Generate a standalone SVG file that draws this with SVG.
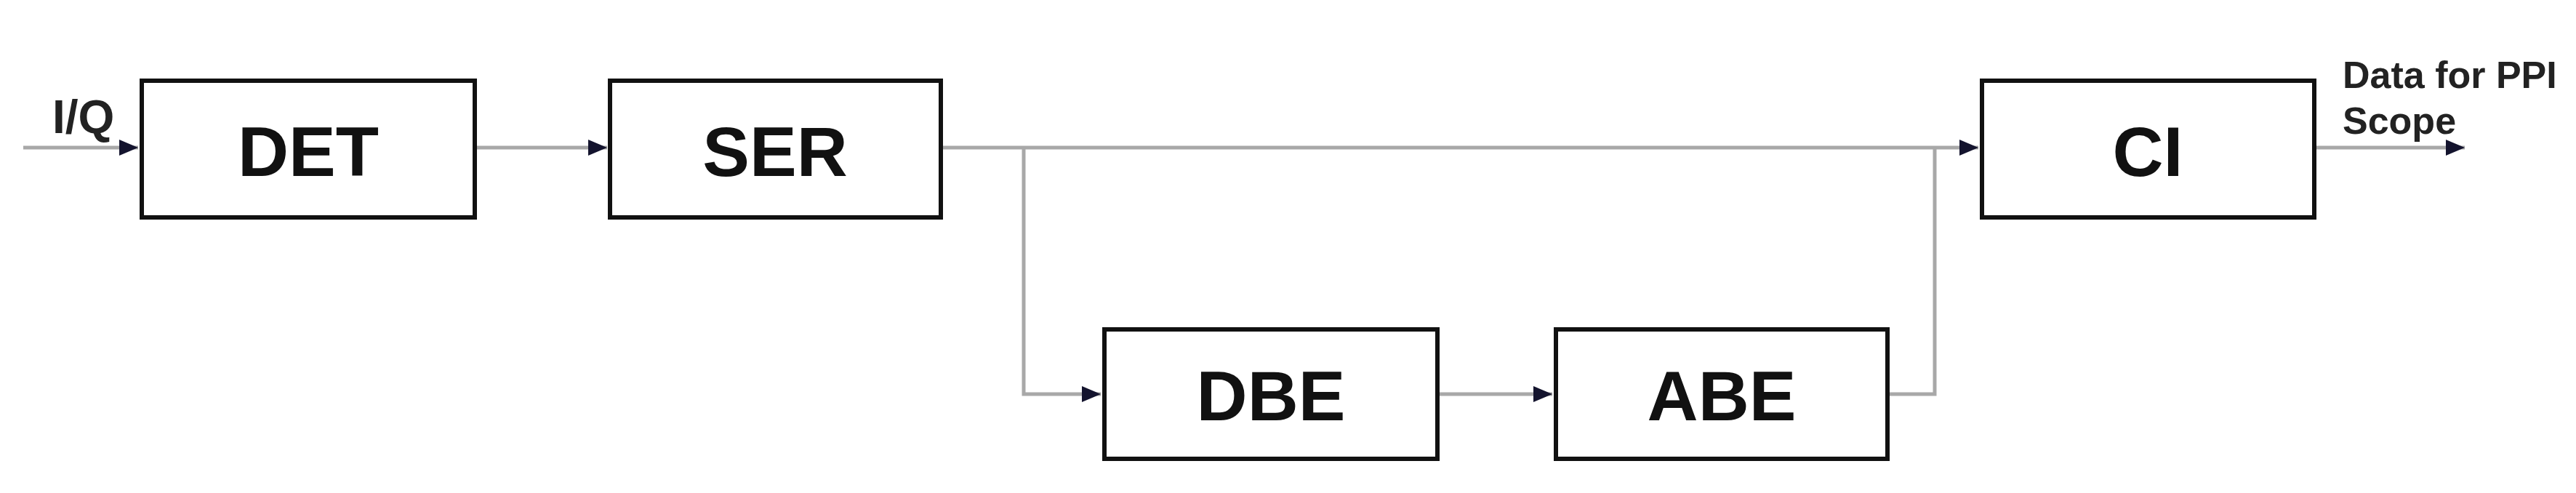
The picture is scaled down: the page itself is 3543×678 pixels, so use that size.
<svg xmlns="http://www.w3.org/2000/svg" width="3543" height="678" viewBox="0 0 3543 678">
  <style>
    .box { fill: #ffffff; stroke: #111111; stroke-width: 6; }
    .lbl { font-family: "Liberation Sans", Arial, sans-serif; font-weight: bold; font-size: 97px; fill: #111111; text-anchor: middle; }
    .note { font-family: "Liberation Sans", Arial, sans-serif; font-weight: bold; fill: #222222; }
    .conn { fill: none; stroke: #a8a8a8; stroke-width: 5; }
  </style>
  <defs>
    <marker id="arr" markerUnits="userSpaceOnUse" markerWidth="30" markerHeight="24" refX="26" refY="11" orient="auto">
      <path d="M0,0 L26,11 L0,22 Z" fill="#14142e"/>
    </marker>
  </defs>
  <rect width="3543" height="678" fill="#ffffff"/>
  <g id="connectors">
    <line class="conn" x1="32" y1="203" x2="190" y2="203" marker-end="url(#arr)"/>
    <line class="conn" x1="656" y1="203" x2="835" y2="203" marker-end="url(#arr)"/>
    <line class="conn" x1="1297" y1="203" x2="2721" y2="203" marker-end="url(#arr)"/>
    <polyline class="conn" points="1408,203 1408,542 1514,542" marker-end="url(#arr)"/>
    <line class="conn" x1="1980" y1="542" x2="2135" y2="542" marker-end="url(#arr)"/>
    <polyline class="conn" points="2599,542 2661,542 2661,203"/>
    <line class="conn" x1="3186" y1="203" x2="3390" y2="203" marker-end="url(#arr)"/>
  </g>
  <g id="node-DET">
    <rect class="box" x="195" y="111" width="458" height="188"/>
    <text class="lbl" x="424" y="242">DET</text>
  </g>
  <g id="node-SER">
    <rect class="box" x="839" y="111" width="455" height="188"/>
    <text class="lbl" x="1066" y="242">SER</text>
  </g>
  <g id="node-CI">
    <rect class="box" x="2726" y="111" width="457" height="188"/>
    <text class="lbl" x="2954" y="242">CI</text>
  </g>
  <g id="node-DBE">
    <rect class="box" x="1519" y="453" width="458" height="178"/>
    <text class="lbl" x="1748" y="578">DBE</text>
  </g>
  <g id="node-ABE">
    <rect class="box" x="2140" y="453" width="456" height="178"/>
    <text class="lbl" x="2368" y="578">ABE</text>
  </g>
  <g id="labels">
    <text class="note" x="72" y="183" font-size="64">I/Q</text>
    <text class="note" x="3222" y="121" font-size="52">Data for PPI</text>
    <text class="note" x="3222" y="184" font-size="52">Scope</text>
  </g>
</svg>
